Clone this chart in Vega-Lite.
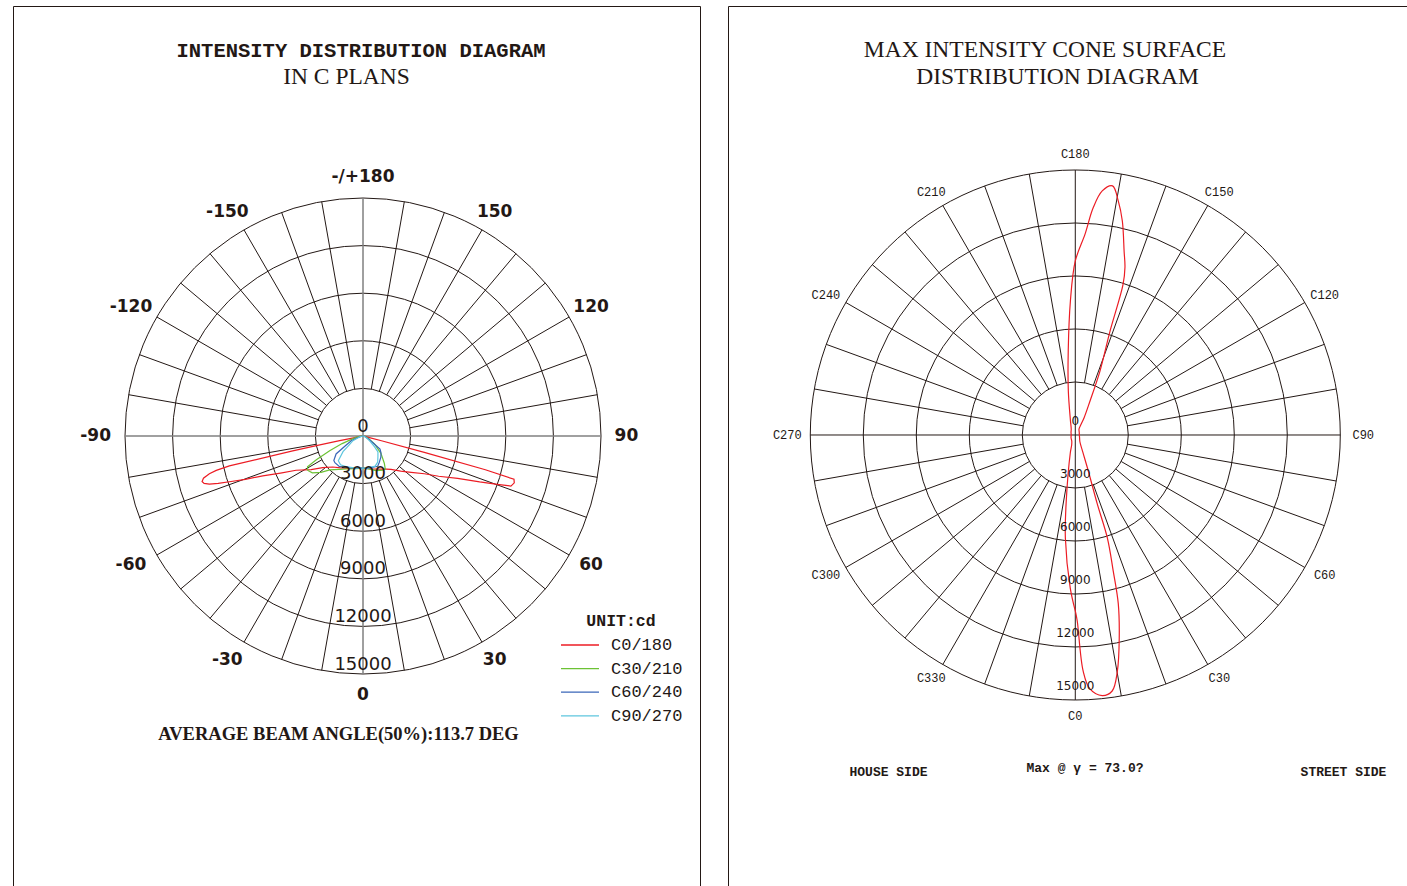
{
  "$schema": "https://vega.github.io/schema/vega-lite/v6.json",
  "padding": {"left": 12, "top": 5, "right": 0, "bottom": 0},
  "spacing": 26,
  "background": "white",
  "config": {
    "view": {"stroke": "#231815", "strokeWidth": 1},
    "text": {"color": "#231815"},
    "legend": {"padding": 0}
  },
  "resolve": {"scale": {"x": "independent", "y": "independent", "size": "independent", "color": "independent"}},
  "datasets": {
    "rings": [{"v": 0}, {"v": 3000}, {"v": 6000}, {"v": 9000}, {"v": 12000}, {"v": 15000}],
    "spokes": [
      {"a": 10}, {"a": 20}, {"a": 30}, {"a": 40}, {"a": 50}, {"a": 60}, {"a": 70}, {"a": 80},
      {"a": 100}, {"a": 110}, {"a": 120}, {"a": 130}, {"a": 140}, {"a": 150}, {"a": 160}, {"a": 170},
      {"a": 190}, {"a": 200}, {"a": 210}, {"a": 220}, {"a": 230}, {"a": 240}, {"a": 250}, {"a": 260},
      {"a": 280}, {"a": 290}, {"a": 300}, {"a": 310}, {"a": 320}, {"a": 330}, {"a": 340}, {"a": 350}
    ],
    "axes": [{"a": 0}, {"a": 90}],
    "anglesL": [
      {"a": 0, "t": "0"}, {"a": 30, "t": "30"}, {"a": 60, "t": "60"}, {"a": 90, "t": "90"},
      {"a": 120, "t": "120"}, {"a": 150, "t": "150"}, {"a": 180, "t": "-/+180"},
      {"a": -150, "t": "-150"}, {"a": -120, "t": "-120"}, {"a": -90, "t": "-90"},
      {"a": -60, "t": "-60"}, {"a": -30, "t": "-30"}
    ],
    "anglesR": [
      {"a": 0, "t": "C0"}, {"a": 30, "t": "C30"}, {"a": 60, "t": "C60"}, {"a": 90, "t": "C90"},
      {"a": 120, "t": "C120"}, {"a": 150, "t": "C150"}, {"a": 180, "t": "C180"},
      {"a": 210, "t": "C210"}, {"a": 240, "t": "C240"}, {"a": 270, "t": "C270"},
      {"a": 300, "t": "C300"}, {"a": 330, "t": "C330"}
    ],
    "planes": [
      {"series": "C0/180", "g": -180, "cd": 0},
      {"series": "C0/180", "g": -120, "cd": 0},
      {"series": "C0/180", "g": -95, "cd": 20},
      {"series": "C0/180", "g": -90, "cd": 40},
      {"series": "C0/180", "g": -85, "cd": 100},
      {"series": "C0/180", "g": -81, "cd": 250},
      {"series": "C0/180", "g": -79, "cd": 600},
      {"series": "C0/180", "g": -78.6, "cd": 1500},
      {"series": "C0/180", "g": -78.3, "cd": 3000},
      {"series": "C0/180", "g": -78, "cd": 4530},
      {"series": "C0/180", "g": -77.4, "cd": 8630},
      {"series": "C0/180", "g": -76.8, "cd": 9500},
      {"series": "C0/180", "g": -76.2, "cd": 9970},
      {"series": "C0/180", "g": -75.2, "cd": 10400},
      {"series": "C0/180", "g": -74.2, "cd": 10540},
      {"series": "C0/180", "g": -73.4, "cd": 10450},
      {"series": "C0/180", "g": -72.6, "cd": 10150},
      {"series": "C0/180", "g": -71.9, "cd": 9600},
      {"series": "C0/180", "g": -71.1, "cd": 8900},
      {"series": "C0/180", "g": -69.8, "cd": 7900},
      {"series": "C0/180", "g": -68.3, "cd": 6800},
      {"series": "C0/180", "g": -65.8, "cd": 5700},
      {"series": "C0/180", "g": -62.9, "cd": 4740},
      {"series": "C0/180", "g": -57, "cd": 3900},
      {"series": "C0/180", "g": -51.8, "cd": 3230},
      {"series": "C0/180", "g": -44.3, "cd": 2730},
      {"series": "C0/180", "g": -35, "cd": 2450},
      {"series": "C0/180", "g": -25, "cd": 2250},
      {"series": "C0/180", "g": -15, "cd": 2120},
      {"series": "C0/180", "g": 0, "cd": 2020},
      {"series": "C0/180", "g": 15, "cd": 2150},
      {"series": "C0/180", "g": 25, "cd": 2300},
      {"series": "C0/180", "g": 35, "cd": 2550},
      {"series": "C0/180", "g": 40, "cd": 2750},
      {"series": "C0/180", "g": 47, "cd": 3250},
      {"series": "C0/180", "g": 53, "cd": 3800},
      {"series": "C0/180", "g": 58.4, "cd": 4540},
      {"series": "C0/180", "g": 62, "cd": 5400},
      {"series": "C0/180", "g": 65.9, "cd": 6530},
      {"series": "C0/180", "g": 68.5, "cd": 7900},
      {"series": "C0/180", "g": 70.2, "cd": 9000},
      {"series": "C0/180", "g": 71.3, "cd": 9840},
      {"series": "C0/180", "g": 72.8, "cd": 9980},
      {"series": "C0/180", "g": 74, "cd": 9900},
      {"series": "C0/180", "g": 74.6, "cd": 8000},
      {"series": "C0/180", "g": 75, "cd": 4000},
      {"series": "C0/180", "g": 75.5, "cd": 1200},
      {"series": "C0/180", "g": 76.5, "cd": 350},
      {"series": "C0/180", "g": 80, "cd": 150},
      {"series": "C0/180", "g": 90, "cd": 40},
      {"series": "C0/180", "g": 95, "cd": 20},
      {"series": "C0/180", "g": 120, "cd": 0},
      {"series": "C0/180", "g": 180, "cd": 0},
      {"series": "C30/210", "g": -180, "cd": 0},
      {"series": "C30/210", "g": -100, "cd": 0},
      {"series": "C30/210", "g": -90, "cd": 100},
      {"series": "C30/210", "g": -80, "cd": 400},
      {"series": "C30/210", "g": -75, "cd": 650},
      {"series": "C30/210", "g": -70, "cd": 1400},
      {"series": "C30/210", "g": -66, "cd": 2300},
      {"series": "C30/210", "g": -63, "cd": 3300},
      {"series": "C30/210", "g": -61, "cd": 4000},
      {"series": "C30/210", "g": -58, "cd": 4100},
      {"series": "C30/210", "g": -54, "cd": 3950},
      {"series": "C30/210", "g": -49, "cd": 3500},
      {"series": "C30/210", "g": -44.5, "cd": 3000},
      {"series": "C30/210", "g": -36, "cd": 2600},
      {"series": "C30/210", "g": -26.8, "cd": 2330},
      {"series": "C30/210", "g": -12, "cd": 2100},
      {"series": "C30/210", "g": 0, "cd": 2020},
      {"series": "C30/210", "g": 10, "cd": 2100},
      {"series": "C30/210", "g": 20.5, "cd": 2330},
      {"series": "C30/210", "g": 30, "cd": 2480},
      {"series": "C30/210", "g": 34, "cd": 2510},
      {"series": "C30/210", "g": 38, "cd": 2180},
      {"series": "C30/210", "g": 46, "cd": 1570},
      {"series": "C30/210", "g": 55, "cd": 900},
      {"series": "C30/210", "g": 65, "cd": 400},
      {"series": "C30/210", "g": 75, "cd": 150},
      {"series": "C30/210", "g": 90, "cd": 30},
      {"series": "C30/210", "g": 100, "cd": 0},
      {"series": "C30/210", "g": 180, "cd": 0},
      {"series": "C60/240", "g": -180, "cd": 0},
      {"series": "C60/240", "g": -100, "cd": 0},
      {"series": "C60/240", "g": -90, "cd": 30},
      {"series": "C60/240", "g": -75, "cd": 300},
      {"series": "C60/240", "g": -68, "cd": 800},
      {"series": "C60/240", "g": -61.7, "cd": 1200},
      {"series": "C60/240", "g": -56.3, "cd": 2040},
      {"series": "C60/240", "g": -50, "cd": 2400},
      {"series": "C60/240", "g": -46.5, "cd": 2440},
      {"series": "C60/240", "g": -38, "cd": 2430},
      {"series": "C60/240", "g": -28, "cd": 2250},
      {"series": "C60/240", "g": -15, "cd": 2100},
      {"series": "C60/240", "g": 0, "cd": 2020},
      {"series": "C60/240", "g": 10, "cd": 2060},
      {"series": "C60/240", "g": 25.9, "cd": 2120},
      {"series": "C60/240", "g": 31.8, "cd": 1950},
      {"series": "C60/240", "g": 40, "cd": 1750},
      {"series": "C60/240", "g": 47, "cd": 1550},
      {"series": "C60/240", "g": 52.6, "cd": 1350},
      {"series": "C60/240", "g": 54.7, "cd": 870},
      {"series": "C60/240", "g": 60, "cd": 450},
      {"series": "C60/240", "g": 70, "cd": 150},
      {"series": "C60/240", "g": 90, "cd": 20},
      {"series": "C60/240", "g": 100, "cd": 0},
      {"series": "C60/240", "g": 180, "cd": 0},
      {"series": "C90/270", "g": -180, "cd": 0},
      {"series": "C90/270", "g": -100, "cd": 0},
      {"series": "C90/270", "g": -90, "cd": 20},
      {"series": "C90/270", "g": -75, "cd": 200},
      {"series": "C90/270", "g": -65, "cd": 700},
      {"series": "C90/270", "g": -57, "cd": 1050},
      {"series": "C90/270", "g": -52, "cd": 1600},
      {"series": "C90/270", "g": -45, "cd": 2200},
      {"series": "C90/270", "g": -38, "cd": 2300},
      {"series": "C90/270", "g": -28, "cd": 2200},
      {"series": "C90/270", "g": -15, "cd": 2080},
      {"series": "C90/270", "g": 0, "cd": 2020},
      {"series": "C90/270", "g": 10, "cd": 2040},
      {"series": "C90/270", "g": 22, "cd": 2050},
      {"series": "C90/270", "g": 29.5, "cd": 1880},
      {"series": "C90/270", "g": 36, "cd": 1600},
      {"series": "C90/270", "g": 43, "cd": 1380},
      {"series": "C90/270", "g": 47, "cd": 1000},
      {"series": "C90/270", "g": 52, "cd": 600},
      {"series": "C90/270", "g": 60, "cd": 300},
      {"series": "C90/270", "g": 75, "cd": 80},
      {"series": "C90/270", "g": 90, "cd": 20},
      {"series": "C90/270", "g": 100, "cd": 0},
      {"series": "C90/270", "g": 180, "cd": 0}
    ],
    "cone": [
      {"c": 0, "cd": 9960}, {"c": 0.6, "cd": 10530}, {"c": 1.9, "cd": 13360}, {"c": 3.3, "cd": 14400},
      {"c": 5.9, "cd": 14830}, {"c": 8.2, "cd": 14640}, {"c": 10.1, "cd": 13580}, {"c": 12.2, "cd": 11770},
      {"c": 14.3, "cd": 9850}, {"c": 15.6, "cd": 7980}, {"c": 17.3, "cd": 6110}, {"c": 17.7, "cd": 4080},
      {"c": 19.9, "cd": 2150}, {"c": 25, "cd": 900}, {"c": 35, "cd": 450}, {"c": 60, "cd": 280},
      {"c": 90, "cd": 230}, {"c": 120, "cd": 260}, {"c": 140, "cd": 330}, {"c": 148, "cd": 400},
      {"c": 153, "cd": 1100}, {"c": 156.6, "cd": 2100}, {"c": 158.9, "cd": 3880}, {"c": 161.5, "cd": 6200},
      {"c": 162.4, "cd": 8940}, {"c": 163.5, "cd": 9900}, {"c": 165.1, "cd": 10750}, {"c": 167.6, "cd": 12400},
      {"c": 169.6, "cd": 13470}, {"c": 171.5, "cd": 14260}, {"c": 173.7, "cd": 13900}, {"c": 175.5, "cd": 12900},
      {"c": 177.2, "cd": 11400}, {"c": 180, "cd": 9850}, {"c": 182.1, "cd": 7580}, {"c": 184.8, "cd": 4770},
      {"c": 189, "cd": 2520}, {"c": 198, "cd": 900}, {"c": 215, "cd": 400}, {"c": 240, "cd": 280},
      {"c": 270, "cd": 230}, {"c": 300, "cd": 280}, {"c": 330, "cd": 400}, {"c": 340, "cd": 600},
      {"c": 344.5, "cd": 1060}, {"c": 352.2, "cd": 3770}, {"c": 354.5, "cd": 5860}, {"c": 358.1, "cd": 8660},
      {"c": 360, "cd": 9960}
    ]
  },
  "hconcat": [
    {
      "width": 687,
      "height": 881,
      "layer": [
        {
          "data": {"name": "rings"},
          "transform": [{"filter": "datum.v > 0"}, {"calculate": "0", "as": "px"}, {"calculate": "0", "as": "py"}],
          "mark": {"type": "point", "shape": "circle", "filled": false, "stroke": "#231815", "strokeWidth": 1, "opacity": 1},
          "encoding": {
            "x": {"field": "px", "type": "quantitative", "axis": null, "scale": {"domain": [-22059, 21239], "nice": false, "zero": false}},
            "y": {"field": "py", "type": "quantitative", "axis": null, "scale": {"domain": [-28424, 27101], "nice": false, "zero": false}},
            "size": {"field": "v", "type": "quantitative", "legend": null,
              "scale": {"type": "pow", "exponent": 2, "domain": [0, 15000], "range": [0, 226576], "nice": false, "zero": true}}
          }
        },
        {
          "data": {"name": "spokes"},
          "transform": [
            {"calculate": "3000*sin(datum.a*PI/180)", "as": "px"},
            {"calculate": "-3000*cos(datum.a*PI/180)", "as": "py"},
            {"calculate": "15000*sin(datum.a*PI/180)", "as": "px2"},
            {"calculate": "-15000*cos(datum.a*PI/180)", "as": "py2"}
          ],
          "mark": {"type": "rule", "stroke": "#231815", "strokeWidth": 1},
          "encoding": {
            "x": {"field": "px", "type": "quantitative", "axis": null},
            "y": {"field": "py", "type": "quantitative", "axis": null},
            "x2": {"field": "px2"}, "y2": {"field": "py2"}
          }
        },
        {
          "data": {"name": "axes"},
          "transform": [
            {"calculate": "-15000*sin(datum.a*PI/180)", "as": "px"},
            {"calculate": "15000*cos(datum.a*PI/180)", "as": "py"},
            {"calculate": "15000*sin(datum.a*PI/180)", "as": "px2"},
            {"calculate": "-15000*cos(datum.a*PI/180)", "as": "py2"}
          ],
          "mark": {"type": "rule", "stroke": "#808080", "strokeWidth": 1.5},
          "encoding": {
            "x": {"field": "px", "type": "quantitative", "axis": null},
            "y": {"field": "py", "type": "quantitative", "axis": null},
            "x2": {"field": "px2"}, "y2": {"field": "py2"}
          }
        },
        {
          "data": {"name": "planes"},
          "transform": [
            {"calculate": "datum.cd*sin(datum.g*PI/180)", "as": "px"},
            {"calculate": "-datum.cd*cos(datum.g*PI/180)", "as": "py"}
          ],
          "mark": {"type": "line", "strokeWidth": 1.2},
          "encoding": {
            "x": {"field": "px", "type": "quantitative", "axis": null},
            "y": {"field": "py", "type": "quantitative", "axis": null},
            "order": {"field": "g", "type": "quantitative"},
            "color": {
              "field": "series", "type": "nominal",
              "scale": {"domain": ["C0/180", "C30/210", "C60/240", "C90/270"], "range": ["#ec1c24", "#6cc234", "#3a66b8", "#5ec6de"]},
              "legend": {
                "title": "UNIT:cd", "orient": "none", "legendX": 547, "legendY": 607,
                "symbolType": "stroke", "symbolSize": 1444, "symbolStrokeWidth": 1.3, "clipHeight": 17,
                "rowPadding": 5.6, "labelOffset": 11, "titlePadding": 7, "titleAnchor": "middle",
                "labelFont": "Liberation Mono", "labelFontSize": 17, "labelColor": "#231815",
                "titleFont": "Liberation Mono", "titleFontSize": 16.5, "titleFontWeight": "bold", "titleColor": "#231815"
              }
            }
          }
        },
        {
          "data": {"name": "rings"},
          "transform": [{"calculate": "0", "as": "px"}, {"calculate": "-datum.v", "as": "py"}],
          "mark": {"type": "text", "font": "DejaVu Sans", "fontSize": 18, "baseline": "middle", "align": "center", "dy": -9.5, "color": "#231815"},
          "encoding": {
            "x": {"field": "px", "type": "quantitative", "axis": null},
            "y": {"field": "py", "type": "quantitative", "axis": null},
            "text": {"field": "v", "type": "quantitative", "format": "d"}
          }
        },
        {
          "data": {"name": "anglesL"},
          "transform": [
            {"calculate": "16600*sin(datum.a*PI/180) - (datum.a < 0 ? 250 : 0)", "as": "px"},
            {"calculate": "-16300*cos(datum.a*PI/180)", "as": "py"}
          ],
          "mark": {"type": "text", "font": "DejaVu Sans", "fontSize": 17, "fontWeight": "bold", "baseline": "middle", "align": "center", "color": "#231815"},
          "encoding": {
            "x": {"field": "px", "type": "quantitative", "axis": null},
            "y": {"field": "py", "type": "quantitative", "axis": null},
            "text": {"field": "t"}
          }
        },
        {
          "data": {"values": [{"t": "INTENSITY DISTRIBUTION DIAGRAM"}]},
          "mark": {"type": "text", "font": "Liberation Mono", "fontSize": 20.5, "fontWeight": "bold", "baseline": "middle", "align": "center", "color": "#231815"},
          "encoding": {"x": {"datum": -126, "type": "quantitative"}, "y": {"datum": 24246, "type": "quantitative"}, "text": {"field": "t"}}
        },
        {
          "data": {"values": [{"t": "IN C PLANS"}]},
          "mark": {"type": "text", "font": "Liberation Serif", "fontSize": 23.5, "baseline": "middle", "align": "center", "color": "#231815"},
          "encoding": {"x": {"datum": -1040, "type": "quantitative"}, "y": {"datum": 22600, "type": "quantitative"}, "text": {"field": "t"}}
        },
        {
          "data": {"values": [{"t": "AVERAGE BEAM ANGLE(50%):113.7 DEG"}]},
          "mark": {"type": "text", "font": "Liberation Serif", "fontSize": 18.5, "fontWeight": "bold", "baseline": "middle", "align": "center", "color": "#231815"},
          "encoding": {"x": {"datum": -1544, "type": "quantitative"}, "y": {"datum": -18800, "type": "quantitative"}, "text": {"field": "t"}}
        }
      ]
    },
    {
      "width": 679,
      "height": 881,
      "layer": [
        {
          "data": {"name": "rings"},
          "transform": [{"filter": "datum.v > 0"}, {"calculate": "0", "as": "px"}, {"calculate": "0", "as": "py"}],
          "mark": {"type": "point", "shape": "circle", "filled": false, "stroke": "#231815", "strokeWidth": 1, "opacity": 1},
          "encoding": {
            "x": {"field": "px", "type": "quantitative", "axis": null, "scale": {"domain": [-19658, 18776], "nice": false, "zero": false}},
            "y": {"field": "py", "type": "quantitative", "axis": null, "scale": {"domain": [-25585, 24283], "nice": false, "zero": false}},
            "size": {"field": "v", "type": "quantitative", "legend": null,
              "scale": {"type": "pow", "exponent": 2, "domain": [0, 15000], "range": [0, 280900], "nice": false, "zero": true}}
          }
        },
        {
          "data": {"name": "spokes"},
          "transform": [
            {"calculate": "3000*sin(datum.a*PI/180)", "as": "px"},
            {"calculate": "-3000*cos(datum.a*PI/180)", "as": "py"},
            {"calculate": "15000*sin(datum.a*PI/180)", "as": "px2"},
            {"calculate": "-15000*cos(datum.a*PI/180)", "as": "py2"}
          ],
          "mark": {"type": "rule", "stroke": "#231815", "strokeWidth": 1},
          "encoding": {
            "x": {"field": "px", "type": "quantitative", "axis": null},
            "y": {"field": "py", "type": "quantitative", "axis": null},
            "x2": {"field": "px2"}, "y2": {"field": "py2"}
          }
        },
        {
          "data": {"name": "axes"},
          "transform": [
            {"calculate": "-15000*sin(datum.a*PI/180)", "as": "px"},
            {"calculate": "15000*cos(datum.a*PI/180)", "as": "py"},
            {"calculate": "15000*sin(datum.a*PI/180)", "as": "px2"},
            {"calculate": "-15000*cos(datum.a*PI/180)", "as": "py2"}
          ],
          "mark": {"type": "rule", "stroke": "#231815", "strokeWidth": 1},
          "encoding": {
            "x": {"field": "px", "type": "quantitative", "axis": null},
            "y": {"field": "py", "type": "quantitative", "axis": null},
            "x2": {"field": "px2"}, "y2": {"field": "py2"}
          }
        },
        {
          "data": {"name": "cone"},
          "transform": [
            {"calculate": "datum.cd*sin(datum.c*PI/180)", "as": "px"},
            {"calculate": "-datum.cd*cos(datum.c*PI/180)", "as": "py"}
          ],
          "mark": {"type": "line", "strokeWidth": 1.2, "color": "#ec1c24", "interpolate": "catmull-rom"},
          "encoding": {
            "x": {"field": "px", "type": "quantitative", "axis": null},
            "y": {"field": "py", "type": "quantitative", "axis": null},
            "order": {"field": "c", "type": "quantitative"}
          }
        },
        {
          "data": {"name": "rings"},
          "transform": [{"calculate": "0", "as": "px"}, {"calculate": "-datum.v", "as": "py"}],
          "mark": {"type": "text", "font": "DejaVu Sans", "fontSize": 12, "baseline": "middle", "align": "center", "dy": -13.5, "color": "#231815"},
          "encoding": {
            "x": {"field": "px", "type": "quantitative", "axis": null},
            "y": {"field": "py", "type": "quantitative", "axis": null},
            "text": {"field": "v", "type": "quantitative", "format": "d"}
          }
        },
        {
          "data": {"name": "anglesR"},
          "transform": [
            {"calculate": "16300*sin(datum.a*PI/180)", "as": "px"},
            {"calculate": "-15900*cos(datum.a*PI/180)", "as": "py"}
          ],
          "mark": {"type": "text", "font": "Liberation Mono", "fontSize": 12, "baseline": "middle", "align": "center", "color": "#231815"},
          "encoding": {
            "x": {"field": "px", "type": "quantitative", "axis": null},
            "y": {"field": "py", "type": "quantitative", "axis": null},
            "text": {"field": "t"}
          }
        },
        {
          "data": {"values": [{"t": "MAX INTENSITY CONE SURFACE"}]},
          "mark": {"type": "text", "font": "Liberation Serif", "fontSize": 23.5, "baseline": "middle", "align": "center", "color": "#231815"},
          "encoding": {"x": {"datum": -1715, "type": "quantitative"}, "y": {"datum": 21800, "type": "quantitative"}, "text": {"field": "t"}}
        },
        {
          "data": {"values": [{"t": "DISTRIBUTION DIAGRAM"}]},
          "mark": {"type": "text", "font": "Liberation Serif", "fontSize": 23.5, "baseline": "middle", "align": "center", "color": "#231815"},
          "encoding": {"x": {"datum": -1008, "type": "quantitative"}, "y": {"datum": 20290, "type": "quantitative"}, "text": {"field": "t"}}
        },
        {
          "data": {"values": [{"t": "HOUSE SIDE"}]},
          "mark": {"type": "text", "font": "Liberation Mono", "fontSize": 13, "fontWeight": "bold", "baseline": "middle", "align": "center", "color": "#231815"},
          "encoding": {"x": {"datum": -10574, "type": "quantitative"}, "y": {"datum": -19058, "type": "quantitative"}, "text": {"field": "t"}}
        },
        {
          "data": {"values": [{"t": "Max @ γ = 73.0?"}]},
          "mark": {"type": "text", "font": "Liberation Mono", "fontSize": 13, "fontWeight": "bold", "baseline": "middle", "align": "center", "color": "#231815"},
          "encoding": {"x": {"datum": 549, "type": "quantitative"}, "y": {"datum": -18849, "type": "quantitative"}, "text": {"field": "t"}}
        },
        {
          "data": {"values": [{"t": "STREET SIDE"}]},
          "mark": {"type": "text", "font": "Liberation Mono", "fontSize": 13, "fontWeight": "bold", "baseline": "middle", "align": "center", "color": "#231815"},
          "encoding": {"x": {"datum": 15181, "type": "quantitative"}, "y": {"datum": -19058, "type": "quantitative"}, "text": {"field": "t"}}
        }
      ]
    }
  ]
}
